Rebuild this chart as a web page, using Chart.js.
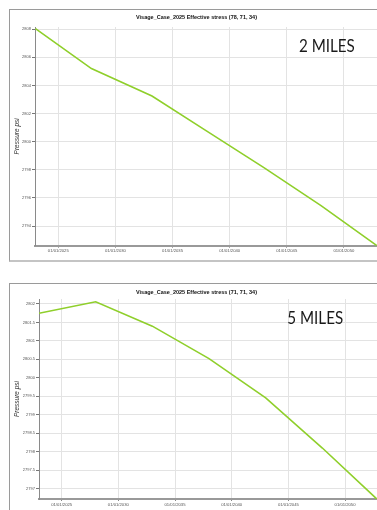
<!DOCTYPE html>
<html>
<head>
<meta charset="utf-8">
<script src="https://cdn.jsdelivr.net/npm/chart.js@4/dist/chart.umd.min.js"></script>
<style>
  html, body { margin: 0; padding: 0; background: #fff; }
  body { position: relative; width: 377px; height: 510px; overflow: hidden; }
  .frame { position: absolute; left: 9px; border-left: 1px solid #9a9a9a; border-top: 1px solid #9a9a9a; }
  #frame2mi { top: 9px; width: 380px; height: 250px; border-bottom: 2px solid #c4c4c4; }
  #frame5mi { top: 283px; width: 380px; height: 240px; }
  canvas { display: block; }
</style>
</head>
<body>
<div class="frame" id="frame2mi"><canvas id="chart2mi" width="367" height="250"></canvas></div>
<div class="frame" id="frame5mi"><canvas id="chart5mi" width="367" height="240"></canvas></div>
<script>
// Effective stress history at the 2-mile cell (78, 71, 34)
const years2mi  = [2023.0, 2027.9, 2033.2, 2038.0, 2043.0, 2048.0, 2052.9];
const stress2mi = [2808.05, 2805.2, 2803.25, 2800.75, 2798.15, 2795.45, 2792.6];

// Effective stress history at the 5-mile cell (71, 71, 34)
const years5mi  = [2023.0, 2028.0, 2033.0, 2038.0, 2043.0, 2048.0, 2052.8];
const stress5mi = [2801.75, 2802.06, 2801.40, 2800.52, 2799.46, 2798.10, 2796.72];

// Axis ticks
const dateTicks = [2025, 2030, 2035, 2040, 2045, 2050];
const ticks2mi  = [2794, 2796, 2798, 2800, 2802, 2804, 2806, 2808];
const ticks5mi  = [2797, 2797.5, 2798, 2798.5, 2799, 2799.5, 2800, 2800.5, 2801, 2801.5, 2802];

const title2mi = 'Visage_Case_2025 Effective stress (78, 71, 34)';
const title5mi = 'Visage_Case_2025 Effective stress (71, 71, 34)';
const tag2mi = '2 MILES';
const tag5mi = '5 MILES';

const FONT = '"Liberation Sans", Arial, sans-serif';
const LINE = '#8fcf2b';

// Large distance label written inside the plot (slightly condensed)
const distanceTag = {
  id: 'distanceTag',
  afterDraw(chart, args, opts) {
    const ctx = chart.ctx;
    ctx.save();
    ctx.translate(opts.x, opts.y);
    ctx.scale(opts.squeeze, 1);
    ctx.font = opts.font;
    ctx.fillStyle = opts.color;
    ctx.textBaseline = 'alphabetic';
    ctx.textAlign = 'left';
    ctx.fillText(opts.text, 0, 0);
    ctx.restore();
  }
};

function stressChart(id, years, values, yTicks, yMin, yMax, xMin, xMax, title, tag, lay) {
  return new Chart(document.getElementById(id), {
    type: 'line',
    data: {
      datasets: [{
        data: years.map((x, i) => ({ x: x, y: values[i] })),
        borderColor: LINE,
        borderWidth: 1.6,
        pointRadius: 0,
        tension: 0,
        fill: false
      }]
    },
    options: {
      responsive: false,
      animation: false,
      devicePixelRatio: 1,
      layout: { padding: { left: 6, right: 0, top: 0, bottom: 0 } },
      plugins: {
        legend: { display: false },
        tooltip: { enabled: false },
        title: {
          display: true,
          text: title,
          color: '#111',
          font: { family: FONT, size: 5.5, weight: 'bold' },
          padding: { top: lay.titleTop, bottom: lay.titleBottom }
        },
        distanceTag: { text: tag, x: lay.tagX, y: lay.tagY, squeeze: 0.92,
                       font: '16.5px Lato, "Open Sans", sans-serif', color: '#1a1a1a' }
      },
      scales: {
        x: {
          type: 'linear',
          min: xMin,
          max: xMax,
          afterBuildTicks: s => { s.ticks = dateTicks.map(v => ({ value: v })); },
          afterFit: s => { s.height = lay.xHeight; },
          ticks: {
            autoSkip: false,
            maxRotation: 0,
            padding: 1,
            color: '#555',
            font: { family: FONT, size: 4.2 },
            callback: v => '01/01/' + v
          },
          grid: { color: '#e3e3e3', lineWidth: 1, tickLength: 2, tickColor: '#888' },
          border: { color: '#999', width: 2 }
        },
        y: {
          type: 'linear',
          min: yMin,
          max: yMax,
          afterBuildTicks: s => { s.ticks = yTicks.map(v => ({ value: v })); },
          afterFit: s => { s.width = lay.yWidth; },
          ticks: {
            autoSkip: false,
            padding: 1,
            color: '#555',
            font: { family: FONT, size: 4 },
            callback: v => String(v)
          },
          grid: { color: '#e3e3e3', lineWidth: 1, tickLength: 3, tickColor: '#777' },
          border: { color: '#8a8a8a', width: 1 },
          title: {
            display: true,
            text: 'Pressure psi',
            color: '#333',
            font: { family: FONT, size: 6.5, style: 'italic' },
            padding: { top: -2.7, bottom: 0 }
          }
        }
      }
    },
    plugins: [distanceTag]
  });
}

stressChart('chart2mi', years2mi, stress2mi, ticks2mi, 2792.6, 2808.16, 2022.96, 2052.9, title2mi, tag2mi,
  { titleTop: 3.7, titleBottom: 6.7, xHeight: 14.3, yWidth: 19, tagX: 289, tagY: 42 });

stressChart('chart5mi', years5mi, stress5mi, ticks5mi, 2796.72, 2802.135, 2023.0, 2052.82, title5mi, tag5mi,
  { titleTop: 5, titleBottom: 3.4, xHeight: 25, yWidth: 23, tagX: 277.3, tagY: 40 });
</script>
</body>
</html>
